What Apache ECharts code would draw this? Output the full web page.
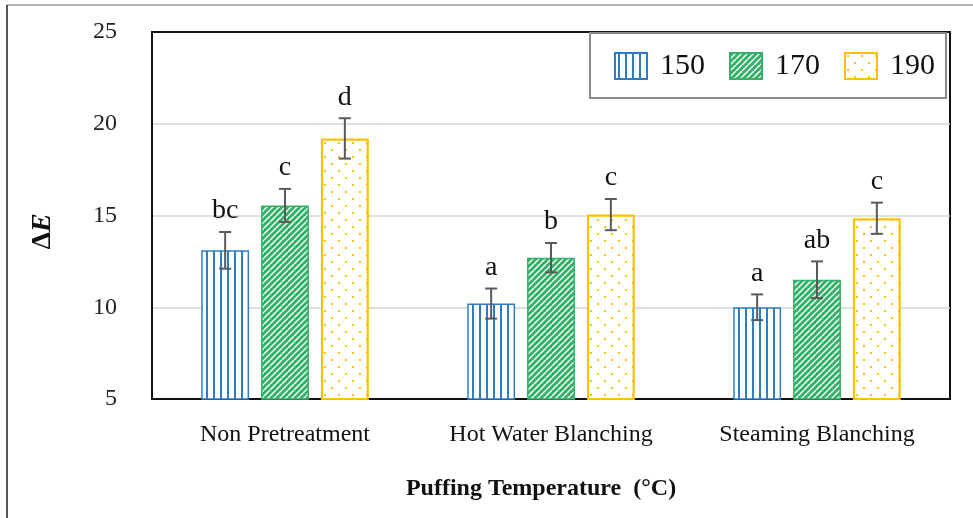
<!DOCTYPE html>
<html>
<head>
<meta charset="utf-8">
<script src="https://cdn.jsdelivr.net/npm/echarts@6/dist/echarts.min.js"></script>
<style>
  html, body { margin: 0; padding: 0; background: #fff; }
  #chart { width: 973px; height: 518px; }
</style>
</head>
<body>
<div id="chart"></div>
<script>
// data
const categories = ['Non Pretreatment', 'Hot Water Blanching', 'Steaming Blanching']
const seriesNames = ['150', '170', '190']
const values150 = [13.1, 10.2, 10.0]
const values170 = [15.55, 12.7, 11.5]
const values190 = [19.2, 15.05, 14.85]
const err150 = [1.0, 0.82, 0.7]
const err170 = [0.9, 0.8, 1.0]
const err190 = [1.1, 0.85, 0.85]
const letters150 = ['bc', 'a', 'a']
const letters170 = ['c', 'b', 'ab']
const letters190 = ['d', 'c', 'c']
const yTicks = [5, 10, 15, 20, 25]

const allValues = [values150, values170, values190]
const allErrors = [err150, err170, err190]
const allLetters = [letters150, letters170, letters190]

const FONT = '"Liberation Serif", "Times New Roman", serif'
const BAR_WIDTH = 0.18
const BAR_GAP = 0.25

// fill patterns
function makeCanvas(w, h) {
  const c = document.createElement('canvas')
  c.width = w
  c.height = h
  return c
}

function stripePattern() {
  const c = makeCanvas(7, 10)
  const ctx = c.getContext('2d')
  ctx.fillStyle = '#fff'
  ctx.fillRect(0, 0, 7, 10)
  ctx.fillStyle = '#2e7dc4'
  ctx.fillRect(3, 0, 2, 10)
  return c
}

function hatchPattern() {
  const s = 6
  const c = makeCanvas(s, s)
  const ctx = c.getContext('2d')
  ctx.fillStyle = '#35b068'
  ctx.fillRect(0, 0, s, s)
  ctx.strokeStyle = '#fff'
  ctx.lineWidth = 1.4
  for (let k = -1; k <= 1; k++) {
    ctx.beginPath()
    ctx.moveTo(k * s, s)
    ctx.lineTo(k * s + s, 0)
    ctx.stroke()
  }
  return c
}

function dotPattern() {
  const c = makeCanvas(14, 14)
  const ctx = c.getContext('2d')
  ctx.fillStyle = '#fff'
  ctx.fillRect(0, 0, 14, 14)
  ctx.fillStyle = '#ffc000'
  ctx.fillRect(2, 2, 2, 2)
  ctx.fillRect(9, 9, 2, 2)
  return c
}

const fills = [stripePattern(), hatchPattern(), dotPattern()]
const borders = ['#2e7dc4', '#35b068', '#ffc000']
const borderWidths = [1.5, 1.5, 2.2]

const chart = echarts.init(document.getElementById('chart'))

const barSeries = seriesNames.map((name, i) => ({
  name: name,
  type: 'bar',
  data: allValues[i],
  barWidth: (BAR_WIDTH * 100) + '%',
  barGap: (BAR_GAP * 100) + '%',
  itemStyle: {
    color: { image: fills[i], repeat: 'repeat' },
    borderColor: borders[i],
    borderWidth: borderWidths[i]
  },
  emphasis: { disabled: true }
}))

// error bars + significance letters
const errorSeries = seriesNames.map((name, i) => ({
  type: 'custom',
  name: name + '_err',
  data: allValues[i].map((v, j) => [j, v - allErrors[i][j], v + allErrors[i][j]]),
  z: 5,
  silent: true,
  renderItem: function (params, api) {
    const band = api.size([1, 0])[0]
    const bw = band * BAR_WIDTH
    const offset = (i - 1) * bw * (1 + BAR_GAP)
    const lo = api.coord([api.value(0), api.value(1)])
    const hi = api.coord([api.value(0), api.value(2)])
    const x = lo[0] + offset
    const cap = 6
    const style = { stroke: '#5a5a5a', lineWidth: 2 }
    return {
      type: 'group',
      children: [
        { type: 'line', shape: { x1: x, y1: lo[1], x2: x, y2: hi[1] }, style: style },
        { type: 'line', shape: { x1: x - cap, y1: lo[1], x2: x + cap, y2: lo[1] }, style: style },
        { type: 'line', shape: { x1: x - cap, y1: hi[1], x2: x + cap, y2: hi[1] }, style: style },
        {
          type: 'text',
          x: x,
          y: hi[1] - 7,
          style: {
            text: allLetters[i][params.dataIndex],
            fill: '#111',
            font: '28px ' + FONT,
            textAlign: 'center',
            textVerticalAlign: 'bottom'
          }
        }
      ]
    }
  }
}))

const option = {
  backgroundColor: '#fff',
  animation: false,
  textStyle: { fontFamily: FONT },
  grid: {
    left: 152,
    right: 23,
    top: 32,
    bottom: 119,
    show: true,
    borderColor: '#111',
    borderWidth: 2
  },
  legend: {
    data: seriesNames,
    icon: 'rect',
    left: 590,
    top: 33,
    itemWidth: 32,
    itemHeight: 26,
    itemGap: 24,
    padding: [18, 11, 17, 24],
    backgroundColor: '#fff',
    borderColor: '#8a8a8a',
    borderWidth: 2,
    borderRadius: 0,
    textStyle: { fontSize: 30, color: '#111', fontFamily: FONT, padding: [0, 0, 0, 8] }
  },
  xAxis: {
    type: 'category',
    data: categories,
    name: 'Puffing Temperature  (°C)',
    nameLocation: 'middle',
    nameGap: 78,
    nameTextStyle: { fontSize: 24, fontWeight: 'bold', color: '#111', fontFamily: FONT, padding: [0, 20, 0, 0] },
    axisLine: { lineStyle: { color: '#111', width: 2 } },
    axisTick: { show: false },
    axisLabel: { fontSize: 24, color: '#111', margin: 24, fontFamily: FONT }
  },
  yAxis: {
    type: 'value',
    min: yTicks[0],
    max: yTicks[yTicks.length - 1],
    interval: yTicks[1] - yTicks[0],
    name: '{d|Δ}{e|E}',
    nameLocation: 'middle',
    nameGap: 95,
    nameRotate: 90,
    nameTextStyle: {
      padding: [0, 32, 0, 0],
      rich: {
        d: { fontSize: 28, fontWeight: 'bold', color: '#111', fontFamily: FONT },
        e: { fontSize: 28, fontWeight: 'bold', fontStyle: 'italic', color: '#111', fontFamily: FONT }
      }
    },
    axisLine: { show: true, lineStyle: { color: '#111', width: 2 } },
    axisTick: { show: false },
    axisLabel: { fontSize: 24, color: '#222', margin: 35, fontFamily: FONT },
    splitLine: { showMinLine: false, showMaxLine: false, lineStyle: { color: '#d6d6d6', width: 1.5 } }
  },
  graphic: [
    { type: 'line', shape: { x1: 7, y1: 5, x2: 973, y2: 5 }, style: { stroke: '#9a9a9a', lineWidth: 1.5 } },
    { type: 'line', shape: { x1: 7, y1: 5, x2: 7, y2: 518 }, style: { stroke: '#222', lineWidth: 1.5 } }
  ],
  series: barSeries.concat(errorSeries)
}

chart.setOption(option)
</script>
</body>
</html>
